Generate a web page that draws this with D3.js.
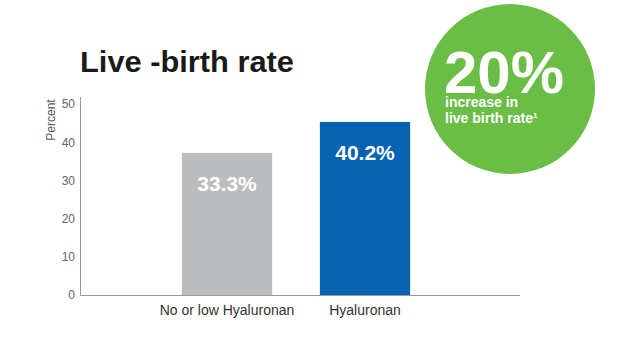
<!DOCTYPE html>
<html>
<head>
<meta charset="utf-8">
<script src="https://cdn.jsdelivr.net/npm/d3@7"></script>
<style>
  html, body { margin: 0; padding: 0; background: #fff; }
  svg { display: block; font-family: "Liberation Sans", Arial, sans-serif; }
</style>
</head>
<body>
<svg id="chart" width="640" height="350"></svg>
<script>
const categories = ["No or low Hyaluronan", "Hyaluronan"];
const barValues = [37.2, 45.3];
const barLabels = ["33.3%", "40.2%"];
const barColors = ["#BBBCBE", "#0563B2"];
const yTicks = [0, 10, 20, 30, 40, 50];
const title = "Live -birth rate";
const yTitle = "Percent";
const badgeBig = "20%";
const badgeLines = ["increase in", "live birth rate\u00B9"];

const svg = d3.select("#chart");

const y = d3.scaleLinear().domain([0, 50]).range([295, 104]);
const x = d3.scaleBand().domain(categories).range([158, 434])
  .paddingInner(0.346).paddingOuter(0.173);

// title
svg.append("text").attr("x", 80).attr("y", 72)
  .attr("font-size", 29).attr("font-weight", "bold").attr("fill", "#1a1a1a")
  .attr("textLength", 214).attr("lengthAdjust", "spacingAndGlyphs")
  .text(title);

// y axis
const yAxis = d3.axisLeft(y).tickValues(yTicks).tickSize(0).tickPadding(5);
const gy = svg.append("g").attr("transform", "translate(80,0)").call(yAxis);
gy.select(".domain").remove();
gy.selectAll("text").attr("font-size", 12).attr("fill", "#666")
  .attr("font-family", "Liberation Sans, Arial, sans-serif");
svg.append("line").attr("x1", 80.5).attr("x2", 80.5).attr("y1", 97).attr("y2", 295)
  .attr("stroke", "#999").attr("stroke-width", 1);

// y title
svg.append("text").attr("transform", "translate(55,120) rotate(-90)")
  .attr("text-anchor", "middle").attr("font-size", 12).attr("fill", "#555")
  .text(yTitle);

// bars
svg.selectAll("rect.bar").data(categories).enter().append("rect")
  .attr("class", "bar")
  .attr("x", d => x(d)).attr("width", x.bandwidth())
  .attr("y", (d, i) => y(barValues[i]))
  .attr("height", (d, i) => y(0) - y(barValues[i]))
  .attr("fill", (d, i) => barColors[i]);

// value labels
svg.selectAll("text.val").data(categories).enter().append("text")
  .attr("class", "val")
  .attr("x", d => x(d) + x.bandwidth() / 2)
  .attr("y", (d, i) => y(barValues[i]) + 38)
  .attr("text-anchor", "middle").attr("font-size", 21).attr("font-weight", "bold")
  .attr("fill", "#fff")
  .text((d, i) => barLabels[i]);

// baseline
svg.append("line").attr("x1", 80).attr("x2", 520).attr("y1", 295.5).attr("y2", 295.5)
  .attr("stroke", "#999").attr("stroke-width", 1);

// x axis labels
const xAxis = d3.axisBottom(x).tickSize(0).tickPadding(10);
const gx = svg.append("g").attr("transform", "translate(0,295)").call(xAxis);
gx.select(".domain").remove();
gx.selectAll("text").attr("font-size", 14).attr("fill", "#333")
  .attr("font-family", "Liberation Sans, Arial, sans-serif");

// badge
svg.append("circle").attr("cx", 510).attr("cy", 89).attr("r", 85).attr("fill", "#6ABD45");
svg.append("text").attr("x", 444).attr("y", 93)
  .attr("font-size", 60).attr("font-weight", "bold").attr("fill", "#fff")
  .attr("textLength", 120).attr("lengthAdjust", "spacingAndGlyphs")
  .text(badgeBig);
svg.selectAll("text.badge").data(badgeLines).enter().append("text")
  .attr("class", "badge")
  .attr("x", 445).attr("y", (d, i) => 107 + i * 16)
  .attr("font-size", 14).attr("font-weight", "bold").attr("fill", "#fff")
  .text(d => d);
</script>
</body>
</html>
